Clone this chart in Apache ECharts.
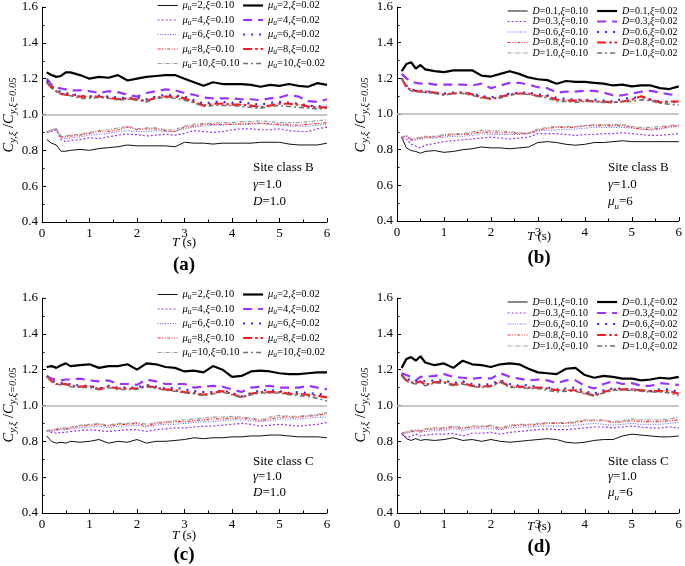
<!DOCTYPE html>
<html><head><meta charset="utf-8">
<script src="https://cdn.jsdelivr.net/npm/echarts@6/dist/echarts.min.js"></script>
<style>html,body{margin:0;padding:0;background:#fff}#c{width:685px;height:566px}</style>
</head><body><div id="c"></div>
<script>
// ---------- DATA ----------
const T = [0.1,0.2,0.3,0.4,0.5,0.6,0.8,1.0,1.2,1.4,1.6,1.8,2.0,2.2,2.4,2.6,2.8,3.0,3.2,3.4,3.6,3.8,4.0,4.2,4.4,4.6,4.8,5.0,5.2,5.4,5.6,5.8,6.0];
const X_TICKS = [0,1,2,3,4,5,6];
const Y_TICKS = [0.4,0.6,0.8,1.0,1.2,1.4,1.6];

// panel (a): Site class B, gamma=1.0, D=1.0
const a_m2_10 = [0.86,0.84,0.83,0.795,0.795,0.80,0.805,0.80,0.81,0.815,0.82,0.83,0.825,0.825,0.825,0.825,0.82,0.845,0.84,0.84,0.835,0.84,0.84,0.84,0.84,0.845,0.845,0.845,0.835,0.83,0.83,0.83,0.84];
const a_m2_02 = [1.235,1.22,1.21,1.215,1.235,1.235,1.22,1.20,1.21,1.205,1.22,1.19,1.20,1.21,1.215,1.22,1.22,1.20,1.18,1.16,1.18,1.17,1.17,1.17,1.165,1.155,1.165,1.16,1.17,1.16,1.155,1.175,1.165];
const a_m4_10 = [0.90,0.905,0.915,0.86,0.848,0.855,0.86,0.87,0.865,0.875,0.885,0.89,0.888,0.88,0.885,0.89,0.885,0.895,0.91,0.905,0.90,0.905,0.915,0.92,0.92,0.915,0.915,0.92,0.91,0.905,0.905,0.92,0.93];
const a_m4_02 = [1.20,1.165,1.15,1.145,1.14,1.135,1.135,1.13,1.12,1.13,1.125,1.11,1.10,1.12,1.13,1.14,1.135,1.12,1.11,1.095,1.09,1.09,1.09,1.085,1.085,1.08,1.09,1.095,1.11,1.10,1.075,1.07,1.085];
const a_m6_10 = [0.90,0.91,0.915,0.87,0.865,0.87,0.875,0.885,0.89,0.895,0.905,0.91,0.905,0.905,0.91,0.905,0.905,0.92,0.93,0.935,0.94,0.94,0.945,0.945,0.945,0.948,0.945,0.94,0.935,0.935,0.935,0.94,0.945];
const a_m6_02 = [1.19,1.16,1.14,1.125,1.12,1.115,1.105,1.10,1.105,1.10,1.095,1.09,1.095,1.085,1.10,1.11,1.105,1.10,1.08,1.06,1.07,1.07,1.065,1.07,1.06,1.055,1.065,1.07,1.065,1.06,1.05,1.045,1.05];
const a_m8_10 = [0.90,0.915,0.92,0.875,0.875,0.88,0.885,0.895,0.905,0.905,0.915,0.93,0.915,0.92,0.92,0.91,0.905,0.93,0.935,0.945,0.945,0.945,0.945,0.948,0.95,0.952,0.948,0.945,0.942,0.94,0.945,0.95,0.955];
const a_m8_02 = [1.18,1.15,1.13,1.115,1.11,1.11,1.10,1.10,1.10,1.095,1.085,1.09,1.085,1.075,1.095,1.10,1.10,1.09,1.07,1.05,1.06,1.06,1.055,1.055,1.05,1.04,1.05,1.06,1.06,1.055,1.045,1.04,1.04];
const a_m10_10 = [0.90,0.915,0.92,0.88,0.88,0.885,0.89,0.90,0.91,0.915,0.925,0.935,0.92,0.925,0.925,0.915,0.915,0.935,0.945,0.95,0.95,0.955,0.955,0.96,0.96,0.965,0.96,0.955,0.955,0.955,0.96,0.965,0.97];
const a_m10_02 = [1.18,1.15,1.13,1.115,1.11,1.105,1.09,1.09,1.095,1.09,1.08,1.085,1.08,1.07,1.09,1.095,1.09,1.08,1.065,1.045,1.05,1.05,1.05,1.045,1.04,1.035,1.045,1.05,1.045,1.04,1.035,1.03,1.035];

// panel (b): Site class B, gamma=1.0, mu=6
const b_d1_10 = [0.87,0.81,0.795,0.79,0.78,0.79,0.795,0.785,0.79,0.80,0.805,0.815,0.81,0.81,0.805,0.81,0.815,0.84,0.845,0.84,0.83,0.825,0.83,0.84,0.84,0.845,0.85,0.845,0.845,0.845,0.845,0.845,0.845];
const b_d1_02 = [1.24,1.28,1.29,1.255,1.275,1.25,1.24,1.235,1.245,1.245,1.245,1.215,1.21,1.225,1.24,1.225,1.205,1.195,1.19,1.17,1.185,1.18,1.18,1.175,1.17,1.16,1.165,1.155,1.16,1.16,1.145,1.14,1.155];
const b_d3_10 = [0.865,0.86,0.83,0.82,0.81,0.825,0.835,0.845,0.85,0.855,0.86,0.865,0.87,0.865,0.86,0.865,0.87,0.89,0.89,0.89,0.885,0.88,0.885,0.885,0.89,0.89,0.895,0.89,0.885,0.88,0.88,0.885,0.89];
const b_d3_02 = [1.225,1.20,1.18,1.175,1.17,1.175,1.165,1.165,1.165,1.165,1.16,1.17,1.145,1.16,1.175,1.175,1.165,1.15,1.145,1.12,1.125,1.125,1.13,1.13,1.12,1.105,1.105,1.115,1.125,1.13,1.12,1.11,1.105];
const b_d6_10 = [0.87,0.875,0.85,0.855,0.86,0.865,0.865,0.87,0.875,0.875,0.88,0.89,0.885,0.885,0.885,0.885,0.89,0.905,0.91,0.91,0.915,0.915,0.92,0.925,0.925,0.925,0.925,0.92,0.915,0.91,0.915,0.925,0.93];
const b_d6_02 = [1.20,1.16,1.14,1.13,1.13,1.13,1.12,1.115,1.12,1.12,1.115,1.10,1.095,1.10,1.115,1.12,1.12,1.11,1.105,1.09,1.085,1.08,1.08,1.08,1.075,1.07,1.085,1.09,1.095,1.08,1.07,1.065,1.07];
const b_d8_10 = [0.87,0.875,0.855,0.86,0.865,0.87,0.87,0.88,0.885,0.885,0.89,0.90,0.895,0.895,0.895,0.89,0.89,0.91,0.92,0.925,0.925,0.925,0.935,0.935,0.935,0.935,0.935,0.925,0.915,0.915,0.92,0.93,0.935];
const b_d8_02 = [1.20,1.15,1.135,1.13,1.125,1.125,1.12,1.11,1.115,1.12,1.11,1.095,1.085,1.095,1.11,1.115,1.115,1.10,1.10,1.08,1.075,1.075,1.075,1.07,1.07,1.065,1.07,1.08,1.10,1.08,1.065,1.07,1.07];
const b_d10_10 = [0.87,0.88,0.86,0.865,0.87,0.875,0.875,0.885,0.89,0.89,0.90,0.91,0.905,0.905,0.90,0.895,0.895,0.915,0.925,0.93,0.93,0.93,0.935,0.94,0.94,0.94,0.94,0.93,0.925,0.925,0.93,0.935,0.94];
const b_d10_02 = [1.20,1.15,1.13,1.125,1.125,1.12,1.115,1.105,1.115,1.115,1.105,1.09,1.09,1.09,1.105,1.115,1.11,1.10,1.09,1.07,1.07,1.065,1.07,1.07,1.065,1.065,1.07,1.07,1.08,1.075,1.06,1.055,1.05];

// panel (c): Site class C, gamma=1.0, D=1.0
const c_m2_10 = [0.83,0.80,0.79,0.795,0.79,0.80,0.795,0.80,0.81,0.79,0.80,0.795,0.81,0.79,0.80,0.80,0.805,0.81,0.82,0.815,0.82,0.82,0.825,0.825,0.83,0.83,0.835,0.835,0.83,0.825,0.825,0.825,0.82];
const c_m2_02 = [1.215,1.22,1.21,1.225,1.235,1.22,1.225,1.23,1.21,1.22,1.22,1.23,1.20,1.235,1.23,1.215,1.21,1.19,1.195,1.185,1.22,1.20,1.16,1.165,1.19,1.195,1.19,1.18,1.175,1.175,1.18,1.185,1.185];
const c_m4_10 = [0.86,0.85,0.845,0.85,0.85,0.855,0.86,0.865,0.86,0.855,0.86,0.865,0.865,0.855,0.865,0.87,0.875,0.875,0.88,0.885,0.885,0.89,0.895,0.90,0.895,0.885,0.89,0.895,0.89,0.885,0.89,0.895,0.905];
const c_m4_02 = [1.165,1.15,1.145,1.14,1.145,1.145,1.15,1.14,1.135,1.14,1.12,1.12,1.115,1.145,1.135,1.12,1.12,1.12,1.10,1.105,1.11,1.105,1.09,1.075,1.10,1.105,1.11,1.10,1.10,1.10,1.11,1.10,1.09];
const c_m6_10 = [0.86,0.855,0.86,0.865,0.865,0.87,0.875,0.88,0.885,0.875,0.885,0.885,0.89,0.88,0.89,0.895,0.895,0.90,0.905,0.91,0.91,0.915,0.92,0.92,0.915,0.91,0.915,0.925,0.925,0.925,0.93,0.935,0.935];
const c_m6_02 = [1.165,1.14,1.13,1.125,1.12,1.12,1.11,1.11,1.095,1.11,1.10,1.10,1.10,1.115,1.105,1.095,1.10,1.09,1.08,1.075,1.075,1.085,1.07,1.05,1.07,1.085,1.085,1.08,1.07,1.075,1.07,1.065,1.06];
const c_m8_10 = [0.86,0.86,0.865,0.87,0.87,0.875,0.885,0.89,0.895,0.885,0.895,0.895,0.90,0.885,0.90,0.905,0.91,0.91,0.915,0.92,0.925,0.925,0.93,0.93,0.925,0.915,0.925,0.935,0.935,0.935,0.94,0.945,0.955];
const c_m8_02 = [1.165,1.135,1.12,1.12,1.12,1.11,1.105,1.11,1.09,1.105,1.095,1.095,1.095,1.11,1.10,1.09,1.085,1.075,1.07,1.06,1.07,1.08,1.065,1.045,1.065,1.075,1.075,1.075,1.065,1.065,1.06,1.055,1.045];
const c_m10_10 = [0.86,0.865,0.87,0.875,0.875,0.88,0.89,0.895,0.90,0.89,0.90,0.90,0.905,0.895,0.905,0.91,0.915,0.92,0.925,0.93,0.935,0.935,0.94,0.935,0.93,0.92,0.935,0.945,0.94,0.94,0.945,0.95,0.96];
const c_m10_02 = [1.165,1.135,1.12,1.115,1.115,1.105,1.10,1.10,1.09,1.10,1.09,1.09,1.09,1.105,1.095,1.085,1.08,1.07,1.065,1.055,1.065,1.075,1.06,1.045,1.06,1.07,1.07,1.07,1.06,1.055,1.05,1.04,1.025];

// panel (d): Site class C, gamma=1.0, mu=6
const d_d1_10 = [0.845,0.815,0.805,0.815,0.805,0.81,0.805,0.81,0.82,0.805,0.81,0.80,0.81,0.80,0.795,0.80,0.805,0.81,0.815,0.81,0.795,0.79,0.795,0.805,0.81,0.81,0.83,0.84,0.835,0.83,0.825,0.825,0.83];
const d_d1_02 = [1.21,1.26,1.27,1.25,1.275,1.24,1.225,1.235,1.21,1.25,1.23,1.225,1.215,1.23,1.235,1.23,1.205,1.185,1.18,1.175,1.205,1.21,1.17,1.155,1.165,1.16,1.15,1.15,1.14,1.145,1.155,1.15,1.16];
const d_d3_10 = [0.84,0.82,0.83,0.84,0.83,0.835,0.84,0.84,0.845,0.83,0.845,0.845,0.85,0.84,0.85,0.855,0.86,0.865,0.87,0.865,0.865,0.87,0.875,0.88,0.88,0.875,0.88,0.885,0.88,0.875,0.875,0.88,0.875];
const d_d3_02 = [1.18,1.17,1.16,1.14,1.16,1.16,1.165,1.175,1.16,1.155,1.15,1.155,1.15,1.18,1.16,1.15,1.14,1.145,1.14,1.125,1.14,1.14,1.11,1.095,1.12,1.135,1.12,1.125,1.11,1.11,1.125,1.12,1.115];
const d_d6_10 = [0.845,0.845,0.85,0.855,0.85,0.855,0.86,0.86,0.87,0.86,0.87,0.87,0.87,0.865,0.875,0.88,0.88,0.885,0.885,0.885,0.885,0.89,0.895,0.90,0.895,0.89,0.895,0.90,0.895,0.895,0.895,0.90,0.905];
const d_d6_02 = [1.175,1.15,1.14,1.135,1.14,1.135,1.14,1.14,1.125,1.135,1.12,1.115,1.12,1.14,1.12,1.11,1.115,1.10,1.10,1.09,1.095,1.10,1.08,1.065,1.085,1.095,1.095,1.09,1.085,1.08,1.09,1.09,1.075];
const d_d8_10 = [0.845,0.85,0.855,0.86,0.855,0.865,0.87,0.87,0.88,0.87,0.88,0.88,0.885,0.87,0.885,0.89,0.89,0.895,0.90,0.90,0.90,0.905,0.915,0.915,0.915,0.905,0.91,0.915,0.91,0.91,0.91,0.915,0.92];
const d_d8_02 = [1.17,1.14,1.13,1.125,1.135,1.115,1.13,1.13,1.115,1.125,1.11,1.105,1.11,1.135,1.105,1.105,1.10,1.10,1.095,1.085,1.085,1.085,1.07,1.055,1.075,1.09,1.09,1.09,1.085,1.08,1.08,1.08,1.065];
const d_d10_10 = [0.845,0.855,0.86,0.865,0.86,0.87,0.875,0.875,0.885,0.875,0.885,0.885,0.89,0.875,0.89,0.895,0.895,0.90,0.905,0.905,0.905,0.91,0.92,0.92,0.92,0.91,0.915,0.925,0.92,0.92,0.92,0.925,0.935];
const d_d10_02 = [1.165,1.135,1.125,1.12,1.13,1.11,1.125,1.125,1.11,1.12,1.105,1.10,1.105,1.13,1.10,1.10,1.095,1.095,1.085,1.075,1.08,1.08,1.065,1.055,1.07,1.085,1.085,1.085,1.08,1.075,1.075,1.07,1.055];

const MU_LEVELS = ['2','4','6','8','10'];
const D_LEVELS = ['0.1','0.3','0.6','0.8','1.0'];
const XI_LEVELS = ['0.10','0.02'];

// ---------- STYLE ----------
const FF = '"Liberation Serif","Times New Roman",serif';
const STY = [ // [xi=0.10 style, xi=0.02 style] per level index
  [{c:'#111', w:1, t:'solid'},        {c:'#000', w:2.2, t:'solid'}],
  [{c:'#9933ff', w:1.2, t:[2,2]},     {c:'#9933ff', w:2.2, t:[9,6]}],
  [{c:'#5c5cff', w:1, t:[1,1.5]},     {c:'#2a2aff', w:2.2, t:[2,6]}],
  [{c:'#ff2a2a', w:1.2, t:[3,1.5,1,1.5,1,1.5]}, {c:'#ff1a1a', w:2.2, t:[9,3,2.5,3]}],
  [{c:'#a0a0a0', w:1.2, t:[4,1.5,1,1.5]}, {c:'#707070', w:1.5, t:[5,3,2,3]}]
];

const panels = [
  {id:'a', kind:'mu', data:[[a_m2_10,a_m2_02],[a_m4_10,a_m4_02],[a_m6_10,a_m6_02],[a_m8_10,a_m8_02],[a_m10_10,a_m10_02]]},
  {id:'b', kind:'D',  data:[[b_d1_10,b_d1_02],[b_d3_10,b_d3_02],[b_d6_10,b_d6_02],[b_d8_10,b_d8_02],[b_d10_10,b_d10_02]]},
  {id:'c', kind:'mu', data:[[c_m2_10,c_m2_02],[c_m4_10,c_m4_02],[c_m6_10,c_m6_02],[c_m8_10,c_m8_02],[c_m10_10,c_m10_02]]},
  {id:'d', kind:'D',  data:[[d_d1_10,d_d1_02],[d_d3_10,d_d3_02],[d_d6_10,d_d6_02],[d_d8_10,d_d8_02],[d_d10_10,d_d10_02]]}
];

const grids = [
  {left:42, top:7, width:285, height:215},
  {left:397, top:7, width:285, height:214},
  {left:42, top:298, width:285, height:215},
  {left:397, top:298, width:285, height:215}
];

const labelMap = {};
const series = [];
const legendData = panels.map(() => [[], []]);
panels.forEach((p, gi) => {
  const levels = p.kind === 'mu' ? MU_LEVELS : D_LEVELS;
  levels.forEach((lv, li) => {
    XI_LEVELS.forEach((xi, xk) => {
      const name = p.id + ':' + lv + ':' + xi;
      labelMap[name] = p.kind === 'mu'
        ? '{m|μ}{s|u}{n|=' + lv + ',}{m|ξ}{n|=' + xi + '}'
        : '{m|D}{n|=' + lv + ',}{m|ξ}{n|=' + xi + '}';
      const st = STY[li][xk];
      legendData[gi][xk].push({name, lineStyle: {color: st.c, width: st.w, type: st.t},
        itemStyle: {opacity: 0, color: 'rgba(0,0,0,0)', borderWidth: 0}});
      const s = {
        type: 'line', name, xAxisIndex: gi, yAxisIndex: gi,
        data: T.map((t, i) => [t, p.data[li][xk][i]]),
        symbol: 'none', showSymbol: false, smooth: false, z: 3 + (xk === 1 ? 1 : 0),
        lineStyle: {color: st.c, width: st.w, type: st.t},
        itemStyle: {color: st.c},
        emphasis: {disabled: true}
      };
      if (li === 0 && xk === 0) {
        s.markLine = {silent: true, symbol: 'none', label: {show: false},
          lineStyle: {color: '#b4b4b4', width: 1.5, type: 'solid'}, data: [{yAxis: 1.0}], z: 1};
      }
      series.push(s);
    });
  });
});

const legRichMu = {
  m: {fontFamily: FF, fontSize: 10.5, fontStyle: 'italic', lineHeight: 14, verticalAlign: 'middle', color: '#000'},
  n: {fontFamily: FF, fontSize: 10.5, lineHeight: 14, verticalAlign: 'middle', color: '#000'},
  s: {fontFamily: FF, fontSize: 7.5, fontStyle: 'italic', lineHeight: 8, verticalAlign: 'bottom', color: '#000'}
};
const legRichD = {
  m: {fontFamily: FF, fontSize: 10, fontStyle: 'italic', lineHeight: 12, verticalAlign: 'middle', color: '#000'},
  n: {fontFamily: FF, fontSize: 10, lineHeight: 12, verticalAlign: 'middle', color: '#000'},
  s: {fontFamily: FF, fontSize: 7.5, lineHeight: 8, verticalAlign: 'bottom', color: '#000'}
};
const legPos = [
  [{left:157, top:0, gap:2}, {left:242, top:0, gap:2}],
  [{left:507, top:6, gap:0.5}, {left:596, top:6, gap:0.5}],
  [{left:157, top:289, gap:2}, {left:242, top:289, gap:2}],
  [{left:507, top:297, gap:1}, {left:596, top:297, gap:1}]
];
const legends = [];
panels.forEach((p, gi) => {
  [0, 1].forEach(k => {
    const lp = legPos[gi][k];
    legends.push({
      orient: 'vertical', left: lp.left, top: lp.top, itemGap: lp.gap,
      itemWidth: 20, itemHeight: 10, padding: 0, selectedMode: false,
      itemStyle: {opacity: 0, color: 'rgba(0,0,0,0)', borderWidth: 0},
      data: legendData[gi][k],
      formatter: n => labelMap[n],
      textStyle: {fontFamily: FF, fontSize: 10, color: '#000', rich: p.kind === 'mu' ? legRichMu : legRichD}
    });
  });
});

const xAxes = grids.map((g, i) => ({
  type: 'value', gridIndex: i, min: X_TICKS[0], max: X_TICKS[X_TICKS.length - 1], interval: 1,
  axisLine: {show: true, onZero: false, lineStyle: {color: '#000', width: 1}},
  axisTick: {show: true, inside: true, length: 4, lineStyle: {color: '#000'}},
  minorTick: {show: true, splitNumber: 2, length: 2.5, lineStyle: {color: '#000'}},
  splitLine: {show: false},
  axisLabel: {fontFamily: FF, fontSize: 13, color: '#000', margin: 5, formatter: v => String(v)}
}));
const yAxes = grids.map((g, i) => ({
  type: 'value', gridIndex: i, min: Y_TICKS[0], max: Y_TICKS[Y_TICKS.length - 1], interval: 0.2,
  axisLine: {show: true, onZero: false, lineStyle: {color: '#000', width: 1}},
  axisTick: {show: true, inside: true, length: 4, lineStyle: {color: '#000'}},
  minorTick: {show: true, splitNumber: 2, length: 2.5, lineStyle: {color: '#000'}},
  splitLine: {show: false},
  axisLabel: {fontFamily: FF, fontSize: 13, color: '#000', margin: 4, formatter: v => v.toFixed(1)}
}));

// text annotations
const richBase = {
  m: {fontFamily: FF, fontSize: 13, fontStyle: 'italic', lineHeight: 18, verticalAlign: 'middle', fill: '#000'},
  n: {fontFamily: FF, fontSize: 13, lineHeight: 18, verticalAlign: 'middle', fill: '#000'},
  s: {fontFamily: FF, fontSize: 9, fontStyle: 'italic', lineHeight: 9, verticalAlign: 'bottom', fill: '#000'}
};
const richTitle = {
  m: {fontFamily: FF, fontSize: 14.5, fontStyle: 'italic', lineHeight: 20, verticalAlign: 'middle', fill: '#000'},
  n: {fontFamily: FF, fontSize: 14.5, lineHeight: 20, verticalAlign: 'middle', fill: '#000'},
  s: {fontFamily: FF, fontSize: 10.5, fontStyle: 'italic', lineHeight: 10, verticalAlign: 'bottom', fill: '#000'}
};
function txt(x, y, text, opts) {
  opts = opts || {};
  return {
    type: 'text', x, y, rotation: opts.rot || 0, silent: true,
    style: {
      text, fill: '#000', fontFamily: FF, fontSize: opts.size || 13,
      align: opts.align || 'left', verticalAlign: 'middle',
      textAlign: opts.align || 'left', textVerticalAlign: 'middle',
      rich: opts.rich || richBase
    }
  };
}
const PANEL_TAGS = ['(a)', '(b)', '(c)', '(d)'];
const SITE = ['Site class B', 'Site class B', 'Site class C', 'Site class C'];
const LINE2 = ['{m|γ}{n|=1.0}', '{m|γ}{n|=1.0}', '{m|γ}{n|=1.0}', '{m|γ}{n|=1.0}'];
const LINE3 = ['{m|D}{n|=1.0}', '{m|μ}{s|u}{n|=6}', '{m|D}{n|=1.0}', '{m|μ}{s|u}{n|=6}'];
const annPos = [
  {x:253, y:[168,185,202], tx:184, ty:243, py:265, yt:[9,115]},
  {x:608, y:[168,185,202], tx:539, ty:237, py:258, yt:[361,115]},
  {x:253, y:[462,477,493], tx:184, ty:536, py:555, yt:[9,405]},
  {x:608, y:[462,477,493], tx:539, ty:527, py:547, yt:[361,405]}
];
const graphics = [];
annPos.forEach((a, i) => {
  graphics.push(txt(a.x, a.y[0], '{n|' + SITE[i] + '}'));
  graphics.push(txt(a.x, a.y[1], LINE2[i]));
  graphics.push(txt(a.x, a.y[2], LINE3[i]));
  graphics.push(txt(a.tx, a.ty, '{m|T}{n| (s)}', {align: 'center'}));
  graphics.push({type: 'text', x: a.tx, y: a.py, silent: true,
    style: {text: PANEL_TAGS[i], fill: '#000', fontFamily: FF, fontSize: 19, fontWeight: 'bold',
      align: 'center', verticalAlign: 'middle', textAlign: 'center', textVerticalAlign: 'middle'}});
  graphics.push(txt(a.yt[0], a.yt[1], '{m|C}{s|y,ξ}{n| /}{m|C}{s|y,ξ=0.05}', {align: 'center', rot: Math.PI / 2, rich: richTitle}));
});

const chart = echarts.init(document.getElementById('c'), null, {renderer: 'canvas'});
chart.setOption({
  animation: false,
  backgroundColor: '#fff',
  grid: grids.map(g => Object.assign({containLabel: false}, g)),
  xAxis: xAxes,
  yAxis: yAxes,
  legend: legends,
  series: series,
  graphic: graphics
});
</script>
</body></html>
